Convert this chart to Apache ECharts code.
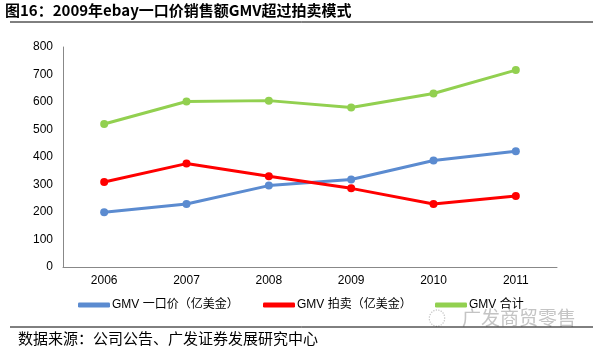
<!DOCTYPE html>
<html><head><meta charset="utf-8">
<script src="https://cdn.jsdelivr.net/npm/echarts@6/dist/echarts.min.js"></script>
<style>html,body{margin:0;padding:0;background:#fff}#c{width:597px;height:354px}</style>
</head><body><div id="c"></div>
<script>
const titleText = '图16：2009年ebay一口价销售额GMV超过拍卖模式';
const sourceText = '数据来源：公司公告、广发证券发展研究中心';
const watermark = '广发商贸零售';
const categories = ['2006','2007','2008','2009','2010','2011'];
const seriesNames = ['GMV 一口价（亿美金）','GMV 拍卖（亿美金）','GMV 合计'];
const fixedPrice = [199, 229, 296, 318, 387, 421];
const auction = [309, 376, 330, 286, 229, 258];
const total = [520, 602, 605, 580, 631, 716];
const yTicks = {min:0, max:800, interval:100};
const colors = ['#5B8BD0','#FF0000','#92D050'];
const legendLefts = [73, 258, 430];

const chart = echarts.init(document.getElementById('c'), null, {renderer:'canvas'});
const font = '"Liberation Sans", Arial, "Noto Sans CJK SC", sans-serif';
function mk(name, data, color){
  return {name, type:'line', data, symbol:'circle', symbolSize:8,
    lineStyle:{color, width:3}, itemStyle:{color}, animation:false};
}
chart.setOption({
  animation:false,
  textStyle:{fontFamily:font},
  grid:{left:63, right:40, top:47, bottom:87},
  xAxis:{type:'category', data:categories, boundaryGap:true,
    axisLine:{lineStyle:{color:'#888', width:1}}, axisTick:{show:false},
    axisLabel:{color:'#000', fontSize:12, margin:8, fontFamily:font}},
  yAxis:{type:'value', min:yTicks.min, max:yTicks.max, interval:yTicks.interval,
    axisLine:{show:true, lineStyle:{color:'#888', width:1}}, axisTick:{show:false},
    splitLine:{show:false},
    axisLabel:{color:'#000', fontSize:12, margin:10, fontFamily:font}},
  legend: seriesNames.map((n,i)=>({
    top:294, left:legendLefts[i], itemWidth:32, itemHeight:5, itemGap:0,
    data:[{name:n, icon:'roundRect', itemStyle:{color:colors[i]}}],
    textStyle:{fontSize:12, color:'#000', fontFamily:font, padding:[0,0,0,-3]}
  })),
  series:[mk(seriesNames[0], fixedPrice, colors[0]), mk(seriesNames[1], auction, colors[1]), mk(seriesNames[2], total, colors[2])],
  graphic:[
    {type:'text', left:5, top:3, style:{text:titleText, font:'bold 15px "Noto Sans CJK SC", sans-serif', fill:'#000'}},
    {type:'line', shape:{x1:10, y1:22, x2:593, y2:22}, style:{stroke:'#000', lineWidth:1}},
    {type:'text', left:428, top:309, style:{text:'◌', font:'18px "Noto Sans CJK SC", sans-serif', fill:'#c4c4c4'}},
    {type:'text', left:462, top:308, style:{text:watermark, font:'19px "Noto Sans CJK SC", sans-serif', fill:'#c4c4c4'}},
    {type:'line', shape:{x1:10, y1:327, x2:593, y2:327}, style:{stroke:'#000', lineWidth:1}, z:10},
    {type:'text', left:18, top:331, style:{text:sourceText, font:'15px "Noto Sans CJK SC", sans-serif', fill:'#000'}}
  ]
});
</script></body></html>
